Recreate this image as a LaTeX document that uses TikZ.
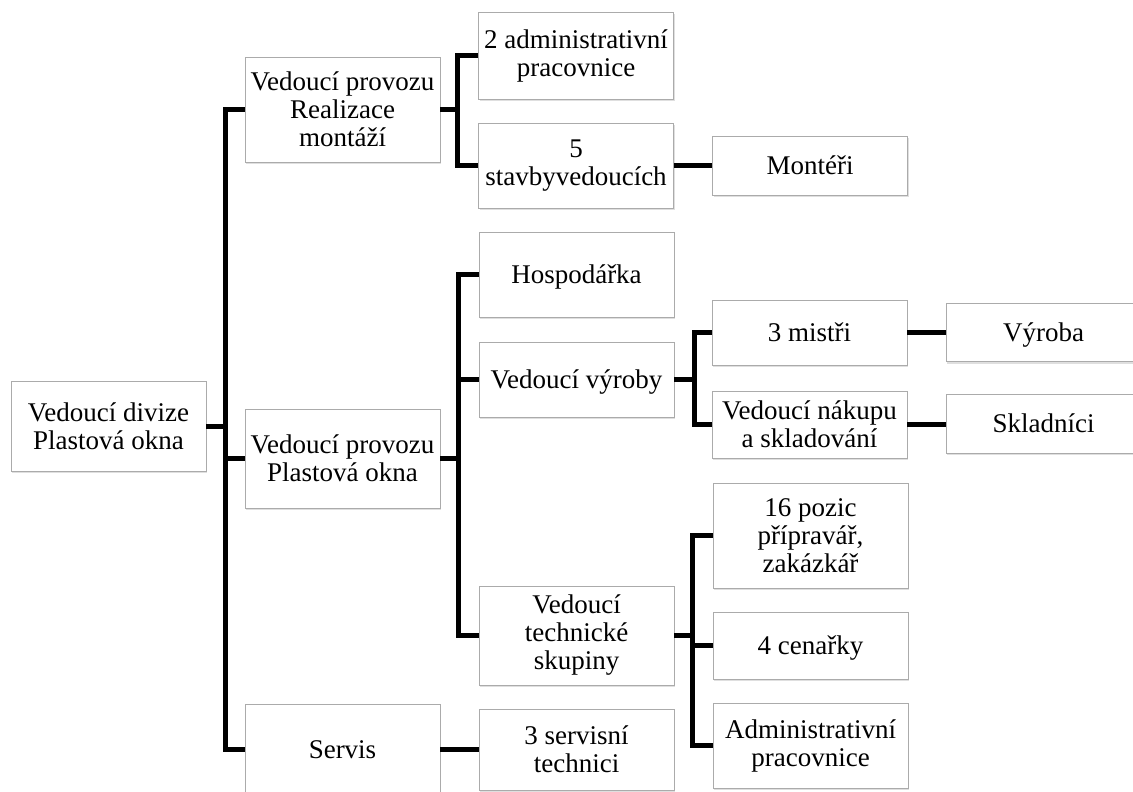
\documentclass[tikz,border=0pt]{standalone}
\usepackage{fontspec}
\setmainfont{Liberation Serif}
\usetikzlibrary{shadows,calc}
\begin{document}
\begin{tikzpicture}[x=1pt,y=-1pt,
  box/.style={draw=black!33, line width=0.8pt, fill=white, align=center,
    inner sep=1pt, minimum width=195pt,
    font=\fontsize{27}{28}\selectfont,
    drop shadow={shadow xshift=1pt, shadow yshift=-2.2pt, opacity=0.25}},
  oneline/.style={text height=18pt, text depth=0pt},
  conn/.style={line width=5pt, line join=miter, draw=black}]
\useasboundingbox (0,0) rectangle (1133,792);

% level 0
\node[box, minimum height=90pt] (root) at (108.5,426) {Vedoucí divize\\Plastová okna};

% level 1
\node[box, minimum height=105pt] (rm) at (342.5,109.5) {Vedoucí provozu\\Realizace\\montáží};
\node[box, minimum height=99pt]  (po) at (342.5,458.5) {Vedoucí provozu\\Plastová okna};
\node[box, oneline, minimum height=90pt] (sv) at (342.5,749) {Servis};

% level 2
\node[box, minimum height=87pt] (adm2) at (576,55.5) {2 administrativní\\pracovnice};
\node[box, minimum height=85pt] (st5)  at (576,165.5) {5\\stavbyvedoucích};
\node[box, oneline, minimum height=85pt] (hosp) at (576.5,274.5) {Hospodářka};
\node[box, oneline, minimum height=75pt] (vv)   at (576.5,379.5) {Vedoucí výroby};
\node[box, minimum height=99pt] (vts)  at (576.5,635.5) {Vedoucí\\technické\\skupiny};
\node[box, minimum height=81pt] (sst)  at (576.5,749.5) {3 servisní\\technici};

% level 3
\node[box, oneline, minimum height=59pt] (mont) at (810,165.5) {Montéři};
\node[box, oneline, minimum height=65pt] (m3)   at (809.5,332.5) {3 mistři};
\node[box, minimum height=67pt]  (vn)   at (809.5,424.5) {Vedoucí nákupu\\a skladování};
\node[box, minimum height=105pt] (p16)  at (810.5,535.5) {16 pozic\\přípravář,\\zakázkář};
\node[box, oneline, minimum height=67pt] (cen)  at (810.5,645.5) {4 cenařky};
\node[box, minimum height=85pt]  (adm)  at (810.5,745.5) {Administrativní\\pracovnice};

% level 4
\node[box, oneline, minimum height=58pt] (vyr) at (1043.5,332.5) {Výroba};
\node[box, oneline, minimum height=59pt] (skl) at (1043.5,423.5) {Skladníci};

% bus junctions
\coordinate (b0) at (225,426);
\coordinate (b1) at (457,109.5);
\coordinate (b2) at (458,458.5);
\coordinate (b3) at (694,379.5);
\coordinate (b4) at (692,635.5);

% connectors
\draw[conn] (root.east) -- (b0);
\draw[conn] (rm.west) -| (b0) |- (sv.west);
\draw[conn] (po.west) -- (po.west -| b0);

\draw[conn] (rm.east) -- (b1);
\draw[conn] (adm2.west) -| (b1) |- (st5.west);
\draw[conn] (st5.east) -- (st5.east -| mont.west);

\draw[conn] (po.east) -- (b2);
\draw[conn] (hosp.west) -| (b2) |- (vts.west);
\draw[conn] (vv.west) -- (vv.west -| b2);

\draw[conn] (vv.east) -- (b3);
\draw[conn] (m3.west) -| (b3) |- (vn.west);
\draw[conn] (m3.east) -- (m3.east -| vyr.west);
\draw[conn] (vn.east) -- (vn.east -| skl.west);

\draw[conn] (vts.east) -- (b4);
\draw[conn] (p16.west) -| (b4) |- (adm.west);
\draw[conn] (cen.west) -- (cen.west -| b4);

\draw[conn] (sv.east) -- (sv.east -| sst.west);
\end{tikzpicture}
\end{document}
